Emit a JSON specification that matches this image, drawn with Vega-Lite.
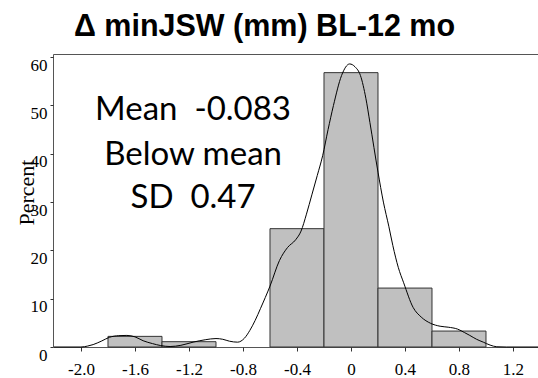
{
  "$schema": "https://vega.github.io/schema/vega-lite/v6.json",
  "autosize": {"type": "none"},
  "padding": {"left": 53, "top": 54, "right": 0, "bottom": 31},
  "width": 487,
  "height": 293,
  "background": "white",
  "view": {"stroke": "#555", "strokeWidth": 1},
  "title": {
    "text": "Δ minJSW (mm) BL-12 mo",
    "font": "Liberation Sans",
    "fontSize": 30.5,
    "fontWeight": "bold",
    "color": "#000",
    "anchor": "middle",
    "baseline": "alphabetic",
    "offset": 17,
    "dx": -32,
    "dy": 29
  },
  "datasets": {
    "bars": [
      {"bin_start": -1.8, "bin_end": -1.4, "pct": 2.2},
      {"bin_start": -1.4, "bin_end": -1.0, "pct": 1.1},
      {"bin_start": -0.6, "bin_end": -0.2, "pct": 24.5},
      {"bin_start": -0.2, "bin_end": 0.2, "pct": 56.8},
      {"bin_start": 0.2, "bin_end": 0.6, "pct": 12.2},
      {"bin_start": 0.6, "bin_end": 1.0, "pct": 3.3}
    ],
    "density": [
      {"x": -2.2, "y": 0}, {"x": -2.0, "y": 0}, {"x": -1.95, "y": 0.2}, {"x": -1.91, "y": 0.5},
      {"x": -1.85, "y": 1.2}, {"x": -1.79, "y": 2.0}, {"x": -1.72, "y": 2.35}, {"x": -1.66, "y": 2.4},
      {"x": -1.6, "y": 2.1}, {"x": -1.54, "y": 1.3}, {"x": -1.47, "y": 0.7}, {"x": -1.41, "y": 0.3},
      {"x": -1.34, "y": 0.1}, {"x": -1.26, "y": 0.35}, {"x": -1.17, "y": 1.0}, {"x": -1.08, "y": 1.5},
      {"x": -1.0, "y": 1.75}, {"x": -0.95, "y": 1.6}, {"x": -0.9, "y": 1.2}, {"x": -0.84, "y": 1.0},
      {"x": -0.79, "y": 1.8}, {"x": -0.75, "y": 3.4}, {"x": -0.71, "y": 5.5}, {"x": -0.67, "y": 8.0},
      {"x": -0.6, "y": 12.6}, {"x": -0.53, "y": 17.9}, {"x": -0.47, "y": 20.6}, {"x": -0.41, "y": 22.2},
      {"x": -0.37, "y": 24.0}, {"x": -0.33, "y": 27.5}, {"x": -0.29, "y": 31.5}, {"x": -0.25, "y": 35.5},
      {"x": -0.21, "y": 39.6}, {"x": -0.17, "y": 45.0}, {"x": -0.13, "y": 50.0}, {"x": -0.07, "y": 56.2},
      {"x": -0.01, "y": 58.6}, {"x": 0.03, "y": 58.0}, {"x": 0.07, "y": 56.2}, {"x": 0.11, "y": 51.5},
      {"x": 0.14, "y": 46.5}, {"x": 0.2, "y": 36.2}, {"x": 0.24, "y": 30.0}, {"x": 0.28, "y": 25.0},
      {"x": 0.31, "y": 21.0}, {"x": 0.35, "y": 16.5}, {"x": 0.39, "y": 13.3}, {"x": 0.46, "y": 8.2},
      {"x": 0.52, "y": 6.2}, {"x": 0.59, "y": 4.9}, {"x": 0.66, "y": 4.3}, {"x": 0.72, "y": 4.1},
      {"x": 0.79, "y": 3.7}, {"x": 0.84, "y": 3.0}, {"x": 0.88, "y": 2.4}, {"x": 0.93, "y": 1.6},
      {"x": 0.98, "y": 1.0}, {"x": 1.03, "y": 0.4}, {"x": 1.08, "y": 0.05}, {"x": 1.15, "y": 0},
      {"x": 1.4, "y": 0}
    ],
    "notes": [
      {"x": -1.17, "y": 47.0, "label": "Mean\u00a0\u00a0-0.083"},
      {"x": -1.17, "y": 37.7, "label": "Below mean"},
      {"x": -1.17, "y": 28.8, "label": "SD\u00a0\u00a00.47"}
    ]
  },
  "layer": [
    {
      "data": {"name": "bars"},
      "mark": {"type": "rect", "fill": "#c0c0c0", "stroke": "#333", "strokeWidth": 1},
      "encoding": {
        "x": {
          "field": "bin_start", "type": "quantitative",
          "scale": {"domain": [-2.2074, 1.4], "nice": false, "zero": false},
          "axis": {
            "values": [-2.0, -1.6, -1.2, -0.8, -0.4, 0, 0.4, 0.8, 1.2],
            "labelExpr": "datum.value == 0 ? '0' : replace(format(datum.value, '.1f'), '−', '-')",
            "title": null,
            "domain": false,
            "grid": false,
            "tickSize": 4,
            "tickColor": "#333",
            "labelFont": "Liberation Serif",
            "labelFontSize": 17,
            "labelColor": "#000",
            "labelPadding": 10,
            "labelFlush": false
          }
        },
        "x2": {"field": "bin_end"},
        "y": {
          "field": "pct", "type": "quantitative",
          "scale": {"domain": [0, 60.66], "nice": false},
          "axis": {
            "values": [0, 10, 20, 30, 40, 50, 60],
            "title": "Percent",
            "titleFont": "Liberation Serif",
            "titleFontSize": 22,
            "titleFontWeight": "normal",
            "titleColor": "#000",
            "titleX": -20,
            "titleY": 138,
            "titleAngle": -90,
            "titleAlign": "center",
            "titleBaseline": "alphabetic",
            "domain": false,
            "grid": false,
            "tickSize": 3,
            "tickColor": "#333",
            "labelFont": "Liberation Serif",
            "labelFontSize": 17,
            "labelColor": "#000",
            "labelBaseline": "top",
            "labelPadding": 3,
            "labelFlush": false
          }
        },
        "y2": {"datum": 0}
      }
    },
    {
      "data": {"name": "density"},
      "mark": {"type": "line", "color": "#000", "strokeWidth": 1, "interpolate": "monotone"},
      "encoding": {
        "x": {"field": "x", "type": "quantitative"},
        "y": {"field": "y", "type": "quantitative"}
      }
    },
    {
      "data": {"name": "notes"},
      "mark": {"type": "text", "font": "Lato", "fontSize": 33, "color": "#000", "align": "center", "baseline": "alphabetic"},
      "encoding": {
        "x": {"field": "x", "type": "quantitative"},
        "y": {"field": "y", "type": "quantitative"},
        "text": {"field": "label"}
      }
    }
  ]
}
